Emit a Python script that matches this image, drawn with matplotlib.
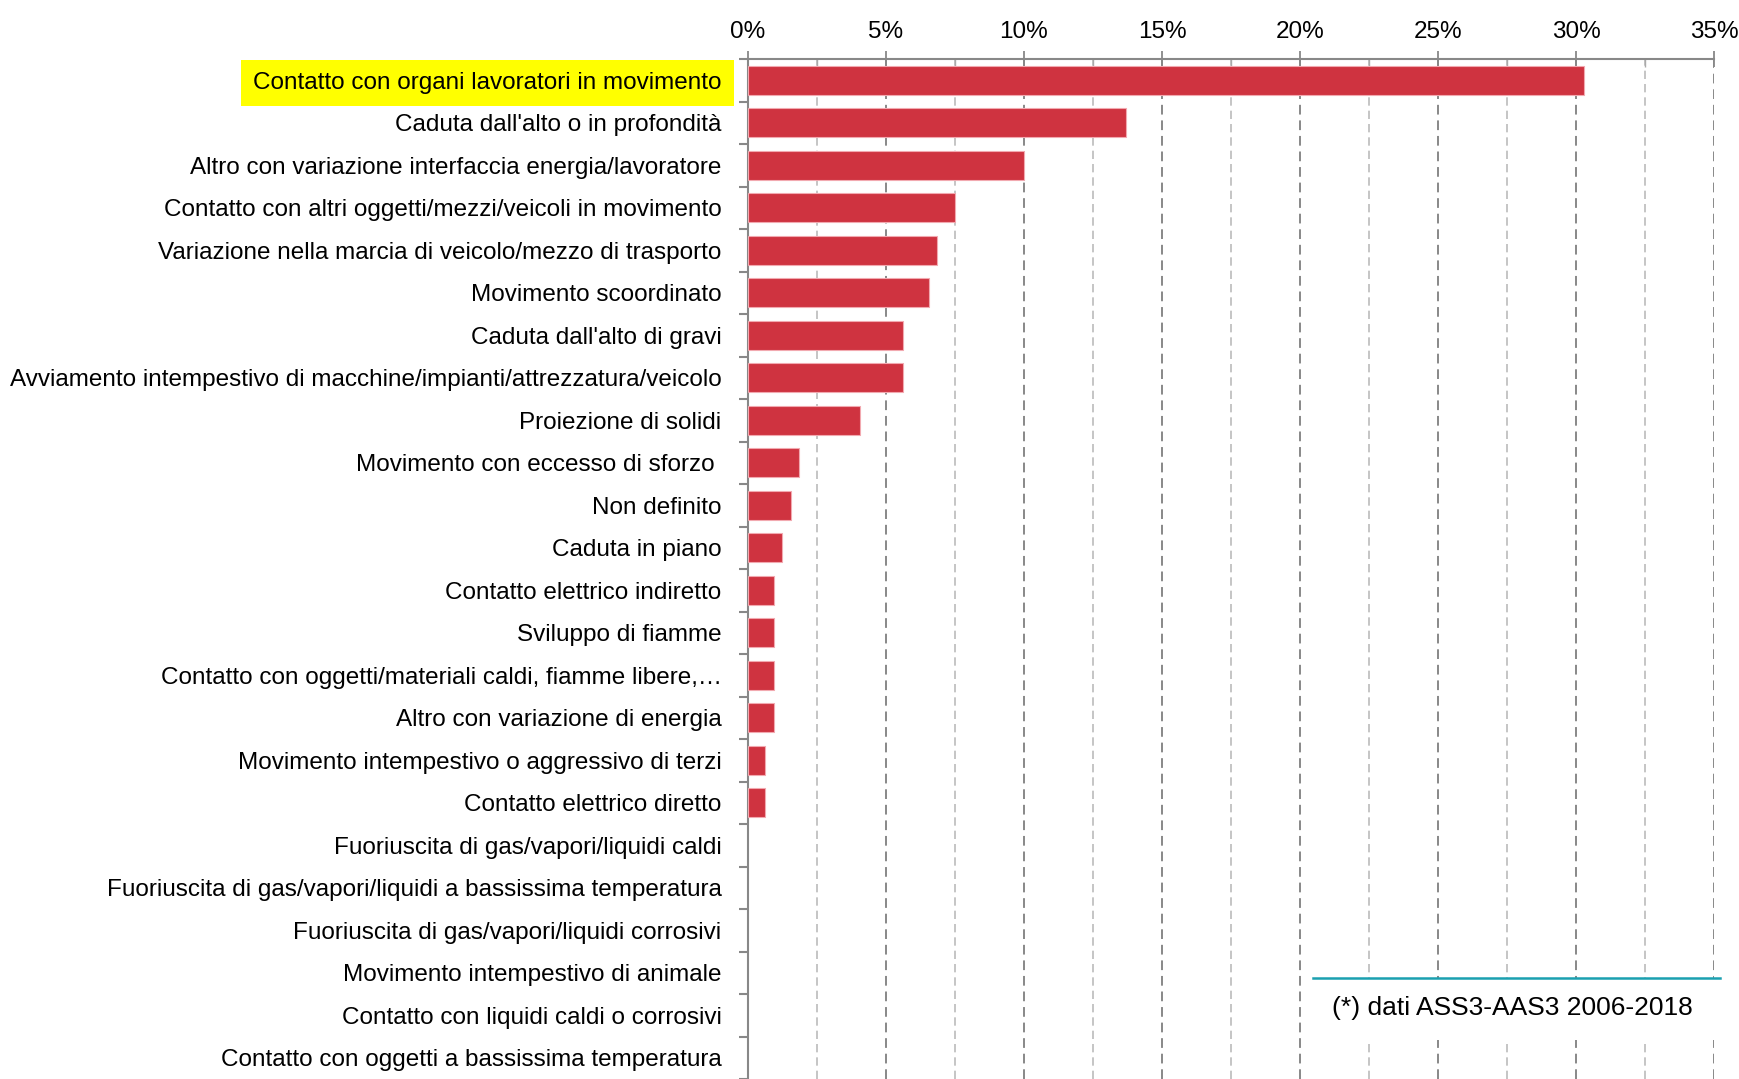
import matplotlib
matplotlib.use("Agg")
import matplotlib.pyplot as plt
from matplotlib.ticker import MultipleLocator, FuncFormatter
from matplotlib.patches import Rectangle
from matplotlib.lines import Line2D

plt.rcParams['font.family'] = ['Liberation Sans Narrow', 'Liberation Sans', 'DejaVu Sans']

categories = [
    "Contatto con organi lavoratori in movimento",
    "Caduta dall'alto o in profondità",
    "Altro con variazione interfaccia energia/lavoratore",
    "Contatto con altri oggetti/mezzi/veicoli in movimento",
    "Variazione nella marcia di veicolo/mezzo di trasporto",
    "Movimento scoordinato",
    "Caduta dall'alto di gravi",
    "Avviamento intempestivo di macchine/impianti/attrezzatura/veicolo",
    "Proiezione di solidi",
    "Movimento con eccesso di sforzo ",
    "Non definito",
    "Caduta in piano",
    "Contatto elettrico indiretto",
    "Sviluppo di fiamme",
    "Contatto con oggetti/materiali caldi, fiamme libere,…",
    "Altro con variazione di energia",
    "Movimento intempestivo o aggressivo di terzi",
    "Contatto elettrico diretto",
    "Fuoriuscita di gas/vapori/liquidi caldi",
    "Fuoriuscita di gas/vapori/liquidi a bassissima temperatura",
    "Fuoriuscita di gas/vapori/liquidi corrosivi",
    "Movimento intempestivo di animale",
    "Contatto con liquidi caldi o corrosivi",
    "Contatto con oggetti a bassissima temperatura",
]
values = [30.3, 13.7, 10.0, 7.5, 6.85, 6.55, 5.6, 5.6, 4.05, 1.85, 1.57, 1.25,
          0.93, 0.93, 0.93, 0.93, 0.62, 0.62, 0, 0, 0, 0, 0, 0]
footnote = "(*) dati ASS3-AAS3 2006-2018"

W, H = 1740, 1079
fig = plt.figure(figsize=(W / 100, H / 100), dpi=100)
ax = fig.add_axes([748 / W, 0.0, (1714 - 748) / W, 1 - 59 / H])

ypos = list(range(len(categories)))
edge_w = [0.8 if v > 0 else 0 for v in values]
ax.barh(ypos, values, height=0.68, color='#CF3340', edgecolor='#F2A9B0', linewidth=edge_w, zorder=3)

ax.set_xlim(0, 35)
ax.set_ylim(-0.5 + (1020 / 42.65), -0.5)

ax.xaxis.tick_top()
ax.xaxis.set_major_locator(MultipleLocator(5))
ax.xaxis.set_minor_locator(MultipleLocator(2.5))
ax.xaxis.set_major_formatter(FuncFormatter(lambda v, p: f"{v:.0f}%"))
ax.tick_params(axis='x', which='major', direction='inout', length=11.5, width=1.3,
               color='#888888', labelsize=17.5, pad=6)
ax.tick_params(axis='x', which='minor', direction='in', length=5.8, width=1.0, color='#AAAAAA')

ax.set_yticks(ypos)
ax.set_yticklabels(categories)
ax.set_yticks([i + 0.5 for i in range(-1, len(categories))], minor=True)
ax.tick_params(axis='y', which='major', length=0, labelsize=17.5, pad=19)
ax.tick_params(axis='y', which='minor', direction='out', length=6.5, width=1.5, color='#888888')

for s in ['right', 'bottom']:
    ax.spines[s].set_visible(False)
for s in ['top', 'left']:
    ax.spines[s].set_color('#888888')
    ax.spines[s].set_linewidth(1.5)

ax.grid(axis='x', which='major', color='#888888', linestyle=(0, (5, 3)), linewidth=1.4, zorder=0)
ax.grid(axis='x', which='minor', color='#BBBBBB', linestyle=(0, (5, 3)), linewidth=1.2, zorder=0)
ax.set_axisbelow(True)

lbl = ax.get_yticklabels()[0]
lbl.set_bbox(dict(facecolor='#FFFF00', edgecolor='none', boxstyle='square,pad=0.5'))

# footnote box
fig.add_artist(Rectangle((1313 / W, 1 - 1040 / H), (1720 - 1313) / W, (1040 - 978) / H,
                         transform=fig.transFigure, facecolor='white', edgecolor='none', zorder=5))
fig.add_artist(Line2D([1313 / W, 1720 / W], [1 - 978 / H, 1 - 978 / H], transform=fig.transFigure,
                      color='#1AA0B0', linewidth=1.8, zorder=6))
fig.text(1512 / W, 1 - 1008 / H, footnote, ha='center', va='center', fontsize=19, zorder=7)

fig.savefig("out.png", dpi=100)
